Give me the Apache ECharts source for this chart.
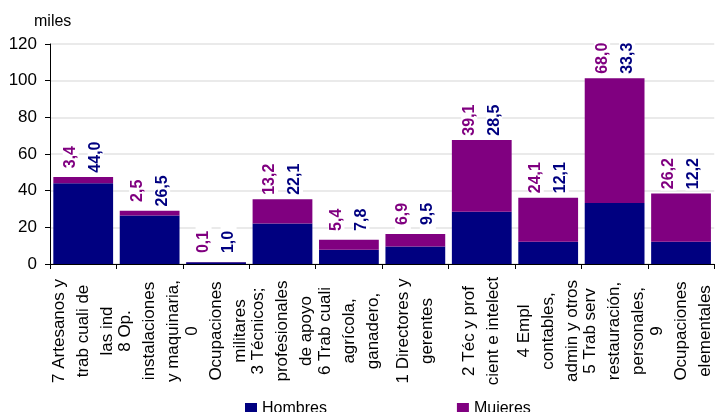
<!DOCTYPE html>
<html>
<head>
<meta charset="utf-8">
<script src="https://cdn.jsdelivr.net/npm/echarts@6/dist/echarts.min.js"></script>
<style>
  html, body {margin: 0; padding: 0; background: #fff;}
  #chart {width: 717px; height: 412px;}
</style>
</head>
<body>
<div id="chart"></div>
<script>
const categories = [
  '7 Artesanos y\ntrab cuali de\nlas ind',
  '8 Op.\ninstalaciones\ny maquinaria,',
  '0\nOcupaciones\nmilitares',
  '3 Técnicos;\nprofesionales\nde apoyo',
  '6 Trab cuali\nagrícola,\nganadero,',
  '1 Directores y\ngerentes',
  '2 Téc y prof\ncient e intelect',
  '4 Empl\ncontables,\nadmin y otros',
  '5 Trab serv\nrestauración,\npersonales,',
  '9\nOcupaciones\nelementales'
]
const hombres = [44.0, 26.5, 1.0, 22.1, 7.8, 9.5, 28.5, 12.1, 33.3, 12.2]
const mujeres = [3.4, 2.5, 0.1, 13.2, 5.4, 6.9, 39.1, 24.1, 68.0, 26.2]

const navy = '#000080'
const purple = '#800080'
const font = '"Liberation Sans", Arial, sans-serif'

const fmt = v => v.toFixed(1).replace('.', ',')

const chart = echarts.init(document.getElementById('chart'))
chart.setOption({
  animation: false,
  backgroundColor: '#fff',
  textStyle: {fontFamily: font},
  title: {
    text: 'miles',
    left: 29,
    top: 9,
    textStyle: {fontSize: 16, fontWeight: 'normal', color: '#000', fontFamily: font}
  },
  legend: {
    left: 240,
    top: 396,
    itemWidth: 12,
    itemHeight: 12,
    itemGap: 130,
    icon: 'rect',
    textStyle: {fontSize: 16, color: '#000', fontFamily: font, padding: [0, 0, 0, 0]},
    data: ['Hombres', 'Mujeres']
  },
  grid: {left: 50, right: 2, top: 44, bottom: 148, containLabel: false},
  xAxis: {
    type: 'category',
    data: categories,
    axisLine: {lineStyle: {color: '#000', width: 1}},
    axisTick: {show: true, length: 5, lineStyle: {color: '#000'}},
    axisLabel: {
      interval: 0,
      rotate: 90,
      align: 'center',
      verticalAlign: 'middle',
      margin: 67,
      fontSize: 17,
      lineHeight: 24,
      color: '#000',
      fontFamily: font
    }
  },
  yAxis: {
    type: 'value',
    min: 0,
    max: 120,
    interval: 20,
    axisLine: {show: true, lineStyle: {color: '#000', width: 1}},
    axisTick: {show: true, length: 5, lineStyle: {color: '#000'}},
    axisLabel: {fontSize: 17, color: '#000', margin: 13, fontFamily: font},
    splitLine: {lineStyle: {color: '#e3e3e3', width: 1.5}}
  },
  series: [
    {
      name: 'Hombres',
      type: 'bar',
      stack: 'total',
      data: hombres,
      barCategoryGap: '10%',
      itemStyle: {color: navy}
    },
    {
      name: 'Mujeres',
      type: 'bar',
      stack: 'total',
      data: mujeres,
      barCategoryGap: '10%',
      itemStyle: {color: purple},
      label: {
        show: true,
        position: 'top',
        distance: 3,
        rotate: 90,
        align: 'left',
        verticalAlign: 'middle',
        formatter: p => `{m|${fmt(mujeres[p.dataIndex])}}\n{h|${fmt(hombres[p.dataIndex])}}`,
        rich: {
          m: {color: purple, fontSize: 16, fontWeight: 'bold', lineHeight: 25, width: 34, align: 'center',
            backgroundColor: '#fff', fontFamily: font},
          h: {color: navy, fontSize: 16, fontWeight: 'bold', lineHeight: 25, width: 34, align: 'center',
            backgroundColor: '#fff', fontFamily: font}
        }
      }
    }
  ]
})
</script>
</body>
</html>
